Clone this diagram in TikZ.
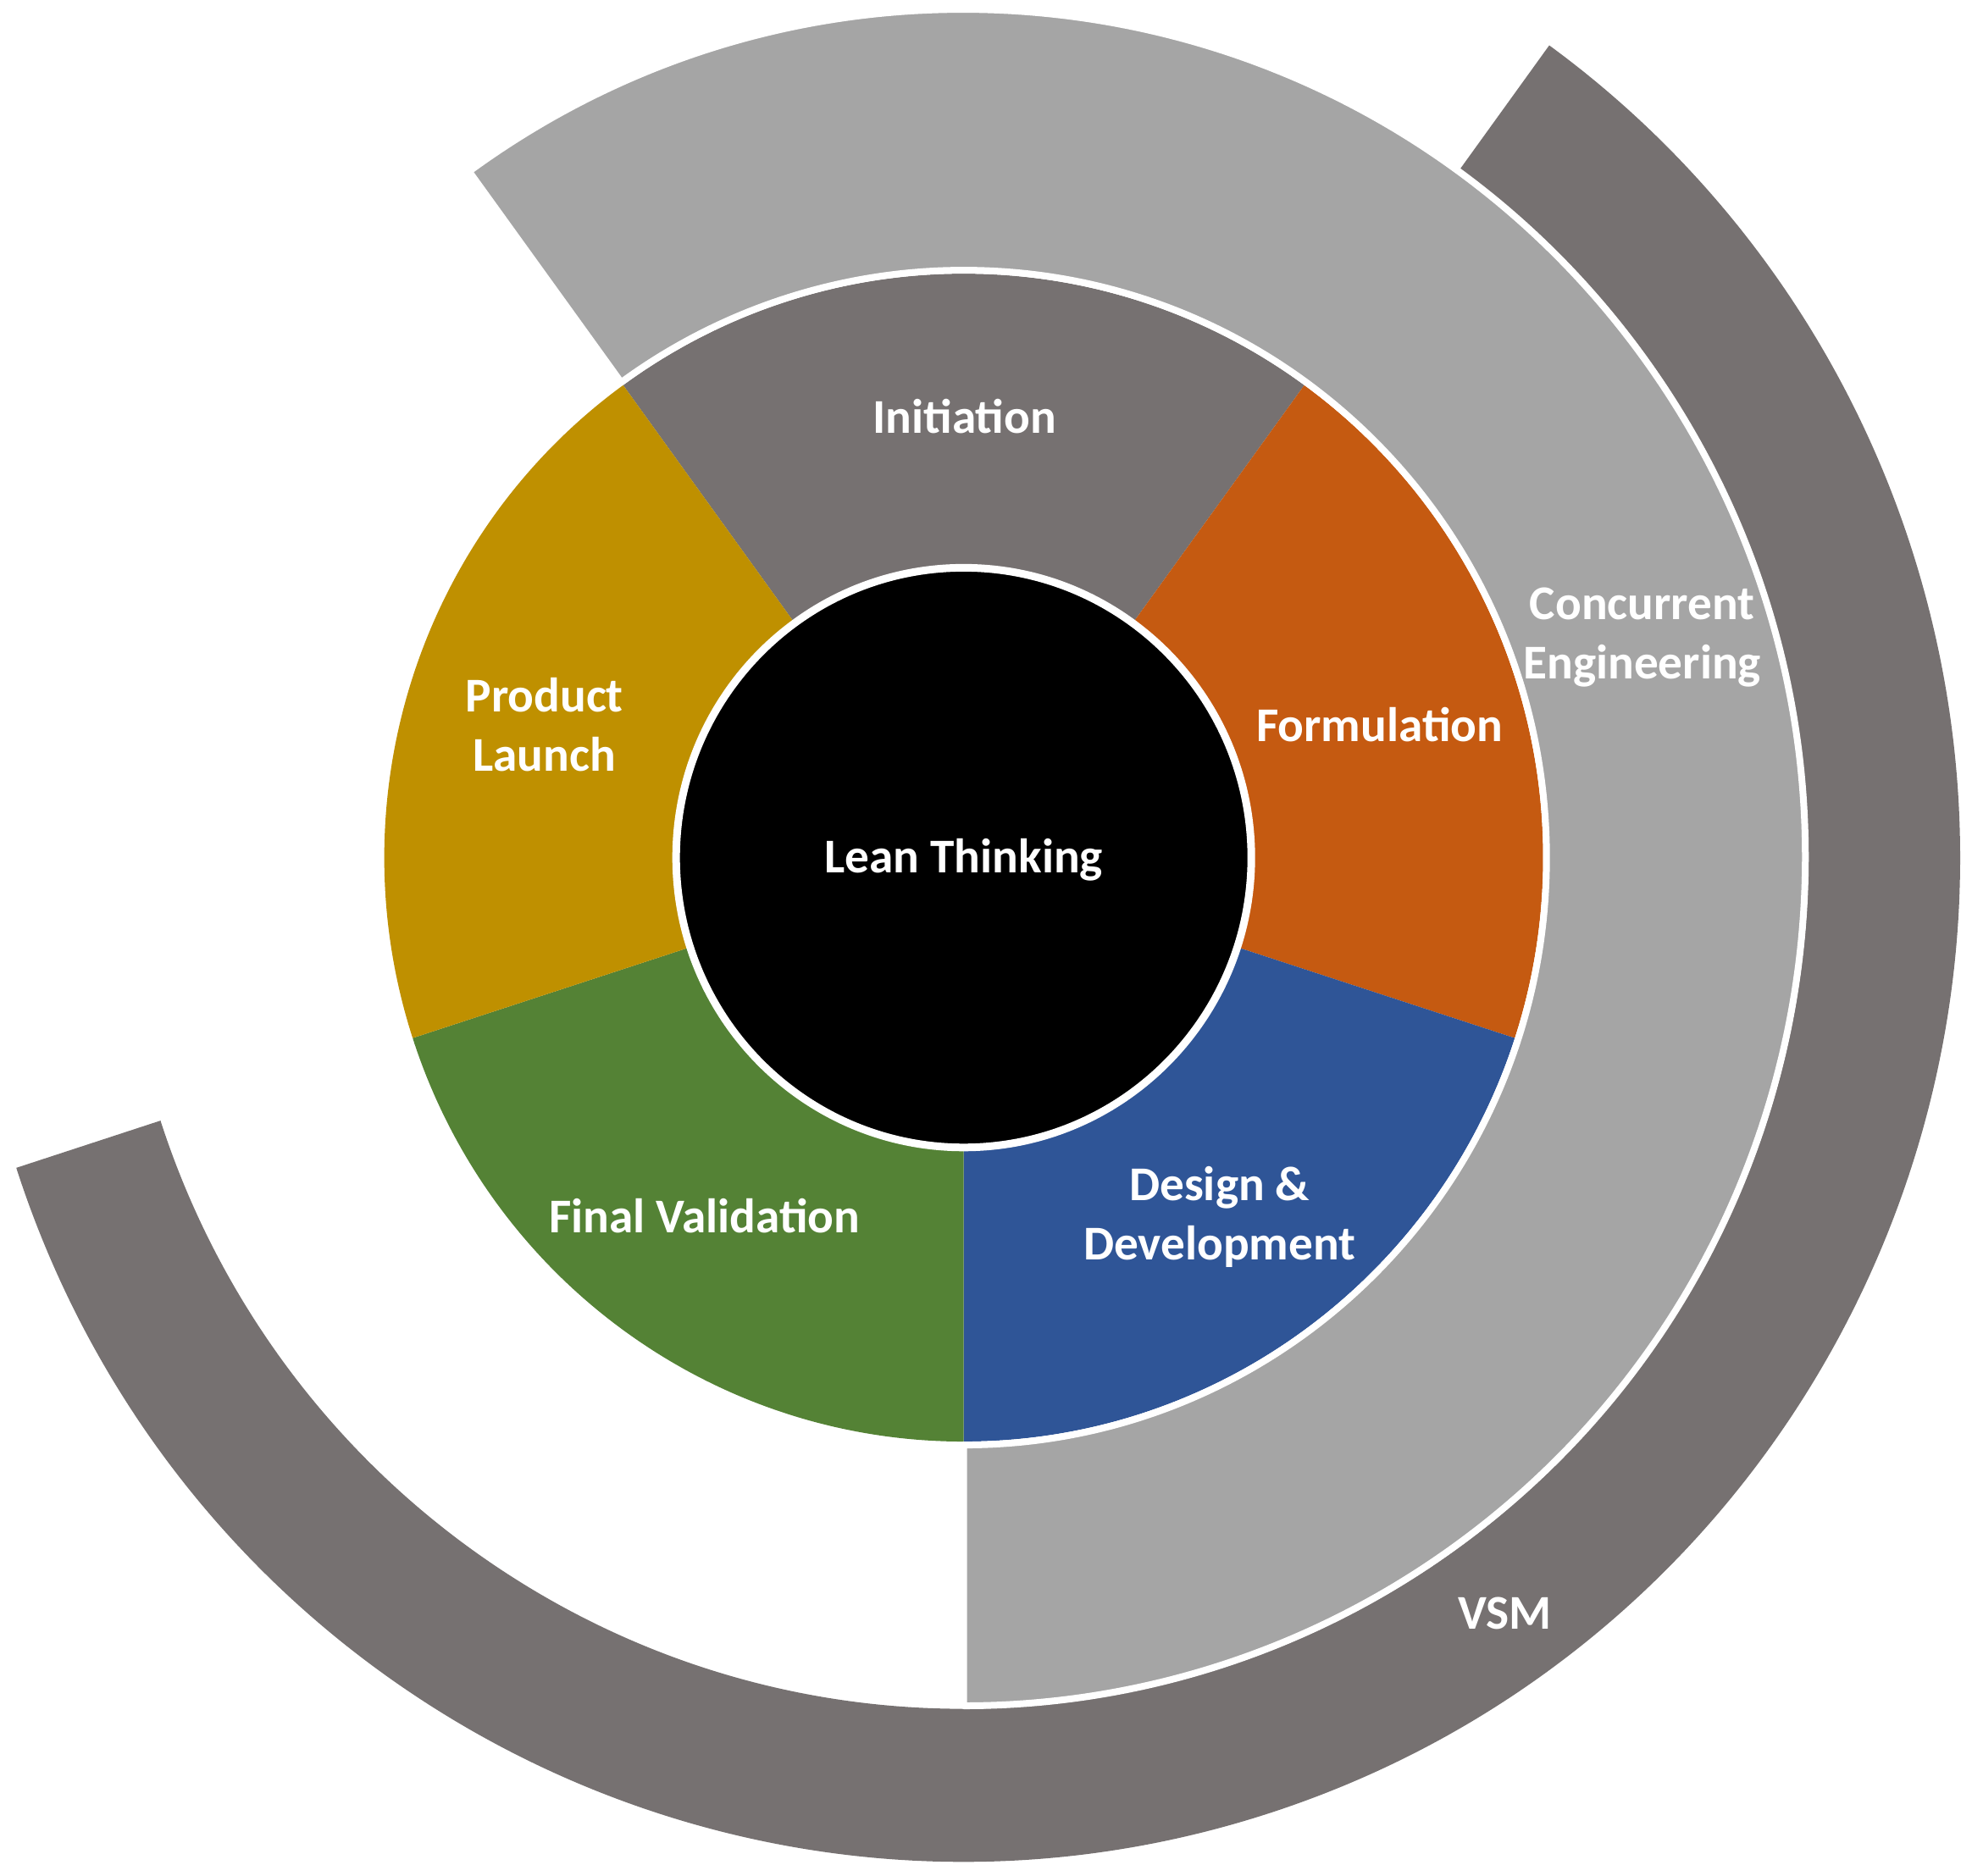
\documentclass[tikz,border=0pt]{standalone}
\usepackage{fontspec}
\setmainfont{Carlito}
\definecolor{vsmgrey}{RGB}{118,113,113}
\definecolor{cegrey}{RGB}{165,165,165}
\definecolor{initgrey}{RGB}{118,113,113}
\definecolor{formorange}{RGB}{197,90,17}
\definecolor{devblue}{RGB}{47,85,151}
\definecolor{valgreen}{RGB}{84,130,53}
\definecolor{launchgold}{RGB}{191,144,0}

\begin{document}
\begin{tikzpicture}[x=1cm,y=1.008cm,line join=round,
  phase/.style={font=\fontsize{16.3}{19.9}\selectfont\bfseries,text=white,align=center,inner sep=0pt},
  ring/.style={draw=white,line width=0.08cm}]
\useasboundingbox (-11.377cm,-12.024cm) rectangle (11.903cm,10.126cm);
% VSM, outermost band
\fill[vsmgrey] (-162:11.76) arc[start angle=-162,end angle=54,radius=11.76] -- (54:9.97) arc[start angle=54,end angle=-162,radius=9.97] -- cycle;
% the five phases
\fill[initgrey] (0,0) -- (54:6.84) arc[start angle=54,end angle=126,radius=6.84] -- cycle;
\fill[formorange] (0,0) -- (-18:6.84) arc[start angle=-18,end angle=54,radius=6.84] -- cycle;
\fill[devblue] (0,0) -- (-90:6.84) arc[start angle=-90,end angle=-18,radius=6.84] -- cycle;
\fill[valgreen] (0,0) -- (-162:6.84) arc[start angle=-162,end angle=-90,radius=6.84] -- cycle;
\fill[launchgold] (0,0) -- (126:6.84) arc[start angle=126,end angle=198,radius=6.84] -- cycle;
% concurrent engineering band
\filldraw[ring,fill=cegrey] (-90:6.88) arc[start angle=-90,end angle=126,radius=6.88] -- (126:9.935) arc[start angle=126,end angle=-90,radius=9.935] -- cycle;
% core
\filldraw[fill=black,draw=white,line width=0.09cm] (0,0) circle (3.395);
\node[phase] (lean) at (0,-0.03) {Lean Thinking};
\node[phase] (init) at (0.01,5.17) {Initiation};
\node[phase] (form) at (4.91,1.56) {Formulation};
\node[phase] (devel) at (3.02,-4.21) {Design \&\\Development};
\node[phase] (valid) at (-3.06,-4.2) {Final Validation};
\node[phase] (launch) at (-4.95,1.56) {Product\\Launch};
\node[phase] (conceng) at (8.01,2.58) {Concurrent\\Engineering};
\node[phase] (vsm) at (6.39,-8.85) {VSM};
\end{tikzpicture}
\end{document}
